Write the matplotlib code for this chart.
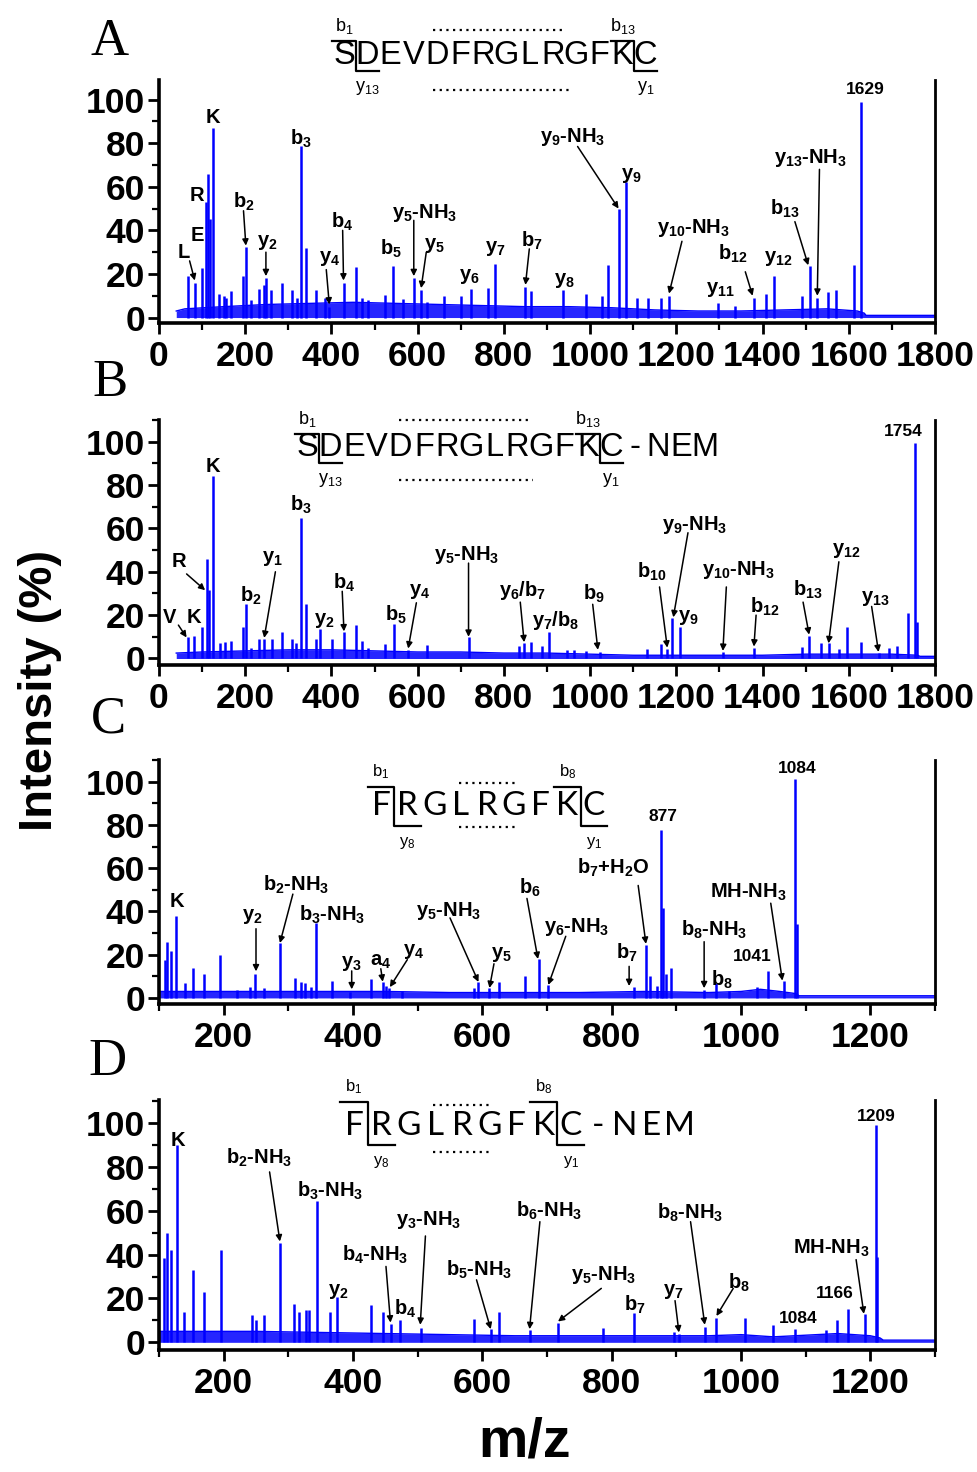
import matplotlib
matplotlib.use("Agg")
import matplotlib.pyplot as plt
import numpy as np
from matplotlib import font_manager
from matplotlib.lines import Line2D
from matplotlib.ticker import MultipleLocator

plt.rcParams["font.family"] = ["Liberation Sans", "DejaVu Sans"]
plt.rcParams["mathtext.fontset"] = "custom"
plt.rcParams["mathtext.rm"] = "Liberation Sans"
plt.rcParams["mathtext.bf"] = "Liberation Sans:bold"
plt.rcParams["mathtext.default"] = "bf"

names = {f.name for f in font_manager.fontManager.ttflist}
SEQ_FONT = "Liberation Sans Narrow" if "Liberation Sans Narrow" in names else "Liberation Sans"
SEQ_SIZE = 27 if SEQ_FONT == "Liberation Sans Narrow" else 23.5
SEQ_FONT2 = "Lato" if "Lato" in names else "Open Sans"

W, H = 978, 1472
BLUE = "#0000ff"

# ---- panel A: SDEVDFRGLRGFKC ----
a_mz = [67, 83, 99, 108.5, 113, 118, 126, 140, 151, 156, 168, 196, 201.5, 214, 232.5, 243, 248, 260, 285, 308,
        319, 329, 342, 365, 385.5, 395, 428, 456, 470, 485, 525, 543, 566, 591, 608, 622, 662, 700, 723, 764,
        780, 850, 864, 936, 991, 1027, 1041, 1067, 1084, 1109, 1134, 1164, 1183, 1297, 1336, 1380, 1409, 1426, 1491, 1509,
        1526, 1551, 1570, 1612, 1629]
a_int = [19, 16, 22.6, 53, 66, 45, 87, 11, 10, 9, 12, 19, 32.6, 8, 13, 15, 18, 12.6, 16, 12.6,
         9, 78.5, 32, 12.8, 9, 5, 16, 23, 9, 8, 10.5, 23.5, 8.5, 18, 12.5, 7, 10, 10, 13, 13.5,
         24.6, 14, 12, 12.6, 11, 10, 24, 49.7, 62, 9, 9, 9, 10, 6.5, 5.4, 9, 11, 19, 10, 23.5,
         9, 11.5, 12.8, 24, 99]
a_base_mz = [40, 60, 150, 250, 350, 450, 550, 650, 750, 850, 950, 1050, 1150, 1250, 1350, 1450, 1550, 1620, 1636, 1640, 1800]
a_base_int = [3, 4, 5, 6, 6.5, 7, 6.5, 6, 5.5, 5, 5, 4.5, 3.5, 3, 3, 3.5, 4, 3, 2, 1, 1]
a_labels = [
    ("L", 58, 30, (71, 26), (83, 17)),
    ("E", 89, 37.7, None, None),
    ("R", 89, 56, None, None),
    ("K", 124, 92, None, None),
    ("b$_2$", 198, 53, (196, 49), (201.5, 33)),
    ("y$_2$", 252, 34.6, (248, 30), (248, 19)),
    ("b$_3$", 329, 82, None, None),
    ("y$_4$", 395, 27, (388, 22), (395, 6)),
    ("b$_4$", 426, 44, (426, 40), (428, 17)),
    ("b$_5$", 539, 31.5, None, None),
    ("y$_5$-NH$_3$", 616, 48, (591, 44.6), (591, 19)),
    ("y$_5$", 640, 33, (620, 30), (608, 13.5)),
    ("y$_6$", 719, 19, None, None),
    ("y$_7$", 781, 31.5, None, None),
    ("b$_7$", 866, 35, (859, 31.5), (850, 15)),
    ("y$_8$", 940, 17, None, None),
    ("y$_9$-NH$_3$", 960, 83, (971, 78.5), (1066, 50)),
    ("y$_9$", 1095, 65, None, None),
    ("y$_{10}$-NH$_3$", 1239, 41, (1213, 35), (1183, 11)),
    ("y$_{11}$", 1303, 13, None, None),
    ("b$_{12}$", 1332, 29, (1360, 21), (1377, 10)),
    ("y$_{12}$", 1436, 27, None, None),
    ("b$_{13}$", 1452, 50, (1475, 44), (1506, 24)),
    ("y$_{13}$-NH$_3$", 1510, 73, (1532, 68), (1527, 10)),
    ("1629", 1638, 104.6, None, None),
]

# ---- panel B: SDEVDFRGLRGFKC-NEM ----
b_mz = [67, 81, 99, 112, 116, 126, 141, 152, 168, 195, 201, 214, 232.5, 244, 261, 285, 308.5, 318, 330, 342,
        365, 373, 401, 429, 457, 470, 485, 525, 544, 578, 622, 718, 834, 847, 864, 889, 905, 946, 963, 991,
        1024, 1132, 1165, 1179, 1191, 1208, 1308, 1380, 1491, 1508, 1535, 1553, 1578, 1595, 1629, 1669, 1694, 1712, 1737, 1754,
        1758]
b_int = [9.7, 10.3, 14.3, 46, 31.5, 84, 7, 7.7, 8, 14.6, 25, 5, 9, 9.2, 9, 12.3, 9.2, 7, 64.6, 25,
         8.8, 13.5, 9.2, 12, 15.4, 8, 5, 6.5, 16, 4, 6, 9.7, 5.7, 7, 7.7, 5.7, 12, 4, 4, 3.5,
         3, 4.6, 6.5, 4.6, 18.5, 14.6, 3, 5, 5.4, 10.3, 7, 7, 4.3, 14.3, 7.7, 2.6, 5, 5.7, 20.8, 99.5,
         17]
b_base_mz = [40, 100, 200, 300, 400, 500, 600, 700, 800, 900, 1000, 1100, 1200, 1300, 1400, 1500, 1600, 1700, 1760, 1765, 1800]
b_base_int = [2.5, 3, 3.5, 4, 4, 3.5, 3, 3, 2.5, 2.5, 2, 1.5, 1.5, 1.5, 1.5, 2, 2, 2, 1.5, 1, 1]
b_labels = [
    ("V", 25, 19, (45, 15.4), (64, 9.7)),
    ("K", 81, 19, None, None),
    ("R", 46.5, 44.6, (64, 39), (107, 31.5)),
    ("K", 124, 88.5, None, None),
    ("b$_2$", 213, 29, None, None),
    ("y$_1$", 264, 46, (270, 40), (244, 9.5)),
    ("b$_3$", 329, 71, None, None),
    ("y$_2$", 384, 17.7, None, None),
    ("b$_4$", 430, 35, (425, 31), (429, 12.5)),
    ("b$_5$", 550, 20, None, None),
    ("y$_4$", 605, 31, (597, 25.7), (578, 4.6)),
    ("y$_5$-NH$_3$", 714, 47.7, (718, 44), (718, 10)),
    ("y$_6$/b$_7$", 843, 31.5, (838, 26), (847, 7.5)),
    ("y$_7$/b$_8$", 921, 17.7, None, None),
    ("b$_9$", 1010, 30, (1006, 25), (1018, 4)),
    ("b$_{10}$", 1143, 40, (1161, 33), (1179, 5)),
    ("y$_9$-NH$_3$", 1243, 61.5, (1227, 58), (1193, 19)),
    ("y$_9$", 1227, 19, None, None),
    ("y$_{10}$-NH$_3$", 1343, 41, (1316, 33), (1308, 3.5)),
    ("b$_{12}$", 1405, 24, (1385, 20), (1380, 5.5)),
    ("b$_{13}$", 1506, 31.5, (1494, 26), (1508, 11)),
    ("y$_{12}$", 1595, 50, (1577, 44.6), (1553, 7)),
    ("y$_{13}$", 1661, 27.7, (1653, 24), (1669, 3)),
    ("1754", 1727, 104.6, None, None),
]

# ---- panel C: FRGLRGFKC ----
c_mz = [109, 112, 118, 127, 140, 152, 170, 195, 220, 241, 249, 263, 287, 310, 319, 326.5, 335, 343, 367, 395.5,
        428, 446, 451, 456, 476, 587, 594, 610, 626, 666, 688, 702, 834, 853, 860, 870, 877, 880, 884, 892,
        943.5, 962, 981, 1025, 1041, 1067, 1084, 1087]
c_int = [17.7, 25.7, 21.8, 37.7, 7, 13.8, 11.2, 19.7, 3.5, 5, 11.2, 4.6, 25.4, 9, 7.2, 7, 5, 34.6, 7.7, 2.6,
         8.8, 7.2, 5.4, 4.6, 3, 4.6, 7.4, 4.6, 7.2, 10, 18, 6, 5, 24.6, 10, 5.7, 77.7, 41.5, 11, 13.8,
         3.8, 7, 3, 5, 12.3, 7.7, 101, 34]
c_base_mz = [100, 150, 250, 350, 450, 550, 650, 750, 850, 950, 1000, 1030, 1060, 1085, 1090, 1300]
c_base_int = [3, 3, 3, 3, 3, 2.5, 2.5, 2.5, 3, 2.5, 3, 4, 3, 2, 1, 1]
c_labels = [
    ("K", 127, 44.6, None, None),
    ("y$_2$", 245, 37.7, (250, 32), (250, 12.3)),
    ("b$_2$-NH$_3$", 312.5, 52.3, (307, 48), (287, 25.4)),
    ("b$_3$-NH$_3$", 367, 38.5, None, None),
    ("y$_3$", 398, 16, (398, 12.5), (398, 4)),
    ("a$_4$", 442, 17, (443, 13.5), (446, 7.5)),
    ("y$_4$", 494, 21.5, (484, 17.7), (457, 5)),
    ("y$_5$-NH$_3$", 548, 40, (550, 37), (594, 7.4)),
    ("y$_5$", 629, 20, (618, 15.8), (611, 4.6)),
    ("b$_6$", 673, 50.8, (669, 46), (686, 18)),
    ("y$_6$-NH$_3$", 746, 33, (729, 28.5), (702, 6)),
    ("b$_7$+H$_2$O", 803, 60, (841, 52), (853, 25)),
    ("b$_7$", 824, 20.8, (827, 14.6), (827, 5.5)),
    ("877", 880, 83.8, None, None),
    ("MH-NH$_3$", 1012, 49, (1046, 43.8), (1064, 8)),
    ("b$_8$-NH$_3$", 958, 31.5, (943, 26), (943, 4.5)),
    ("b$_8$", 971, 8.5, None, None),
    ("1041", 1018, 19, None, None),
    ("1084", 1087, 106, None, None),
]

# ---- panel D: FRGLRGFKC-NEM ----
d_mz = [108, 113, 119, 127.5, 139, 153, 170, 196, 244, 250, 263, 287, 309, 316, 327, 332, 344, 364, 375, 428,
        447, 458, 472, 505, 587, 613, 626, 673, 717, 787, 834, 896, 904, 944, 962, 1006, 1049, 1083, 1132, 1149,
        1166, 1191, 1209, 1211]
d_int = [38.5, 49.7, 42, 90, 13.8, 33, 23, 42.3, 12.3, 10, 12.3, 45.4, 17.7, 13.8, 14.6, 14.6, 64.3, 13.8, 20.8, 17,
         13.8, 8.5, 10, 6.5, 10.5, 6, 13.8, 5.4, 8.8, 6.5, 13.4, 4.6, 3.8, 6.9, 11, 11.2, 8, 6, 5.8, 10,
         15.4, 13, 99, 39]
d_base_mz = [100, 150, 250, 350, 450, 550, 650, 750, 850, 950, 1000, 1050, 1150, 1200, 1215, 1220, 1300]
d_base_int = [5, 5, 5, 4.5, 4, 3.5, 3, 3, 3, 3, 3.5, 2.5, 4, 3, 2, 1, 1]
d_labels = [
    ("K", 128.5, 92, None, None),
    ("b$_2$-NH$_3$", 255.5, 84, (271, 77.7), (287, 46)),
    ("b$_3$-NH$_3$", 364, 69, None, None),
    ("y$_2$", 377, 23, None, None),
    ("b$_4$-NH$_3$", 434, 40, (451, 34.6), (458, 9)),
    ("b$_4$", 481, 15.4, None, None),
    ("y$_3$-NH$_3$", 517, 56, (512, 48.5), (504, 8)),
    ("b$_5$-NH$_3$", 595, 33, (591, 28.5), (613, 6)),
    ("b$_6$-NH$_3$", 703, 60, (689, 55), (673, 6)),
    ("y$_5$-NH$_3$", 787, 30.8, (784, 24.6), (717, 9.5)),
    ("b$_7$", 836, 17, None, None),
    ("y$_7$", 896, 23, (898, 19), (904, 4.5)),
    ("b$_8$-NH$_3$", 922, 59, (922, 55), (944, 8)),
    ("b$_8$", 997, 27, (988, 24.6), (962, 12)),
    ("1084", 1088, 10.8, None, None),
    ("1166", 1145, 22.3, None, None),
    ("MH-NH$_3$", 1139, 43, (1178, 37.7), (1190, 13)),
    ("1209", 1209, 103, None, None),
]


def fx(x):
    return x / W


def fy(y):
    return 1 - y / H


def make_axes(fig, top, bottom):
    left, right = 159, 935
    return fig.add_axes([fx(left), fy(bottom), (right - left) / W, (bottom - top) / H])


def draw_spectrum(ax, mz, inten, base_mz, base_int, labels, xlim, ylim, xticks):
    ax.fill_between(base_mz, 0, base_int, color=BLUE, lw=0, alpha=0.85, zorder=2)
    ax.plot(base_mz, base_int, color=BLUE, lw=1, zorder=2)
    ax.vlines(mz, 0, inten, color=BLUE, lw=1.8, zorder=3)
    for text, tx, ty, tail, head in labels:
        size = 12.5 if text.isdigit() else 14.5
        ax.text(tx, ty, text, ha="center", va="center", fontsize=size,
                fontweight="bold", zorder=5)
        if tail is not None:
            ax.annotate("", xy=head, xytext=tail,
                        arrowprops=dict(arrowstyle="-|>", color="black", lw=1.1,
                                        mutation_scale=9, shrinkA=0, shrinkB=0),
                        zorder=4)
    ax.set_xlim(*xlim)
    ax.set_ylim(*ylim)
    ax.set_xticks(xticks)
    ax.set_xticklabels([str(t) for t in xticks], fontsize=25.5, fontweight="bold")
    yt = list(range(0, 101, 20))
    ax.set_yticks(yt)
    ax.set_yticklabels([str(t) for t in yt], fontsize=25.5, fontweight="bold")
    ax.xaxis.set_minor_locator(MultipleLocator(100))
    ax.yaxis.set_minor_locator(MultipleLocator(10))
    ax.tick_params(which="major", direction="out", length=8, width=2, pad=2)
    ax.tick_params(which="minor", direction="out", length=5, width=1.6)
    ax.tick_params(axis="x", which="major", pad=4)
    ax.spines["top"].set_visible(False)
    for s in ("left", "bottom"):
        ax.spines[s].set_linewidth(2.6)
    ax.spines["right"].set_linewidth(2)
    ax.patch.set_alpha(0)


def fig_line(fig, xs, ys, **kw):
    fig.add_artist(Line2D([fx(x) for x in xs], [fy(y) for y in ys],
                          transform=fig.transFigure, color="black", **kw))


def draw_sequence(fig, seq, x0, pitch, yc, size, family, top, bottom,
                  brackets, dots, sub_size=13):
    for i, ch in enumerate(seq):
        fig.text(fx(x0 + i * pitch), fy(yc), ch, ha="center", va="center",
                 fontsize=size, family=family, fontweight="normal")
    for i, top_lab, bot_lab in brackets:
        xa = x0 + i * pitch
        xb = xa + pitch / 2
        fig_line(fig, [xa - pitch / 2, xb, xb, xb + pitch], [top, top, bottom, bottom], lw=1.6)
        fig.text(fx(xa), fy(top - 15), top_lab, ha="center", va="center",
                 fontsize=sub_size, fontweight="normal")
        fig.text(fx(xb + pitch / 2), fy(bottom + 17), bot_lab, ha="center", va="center",
                 fontsize=sub_size, fontweight="normal")
    for xa, xb, yd in dots:
        fig_line(fig, [xa, xb], [yd, yd], lw=1.6, linestyle=(0, (1, 2)))


fig = plt.figure(figsize=(W / 100, H / 100), dpi=100)

axA = make_axes(fig, 80, 323)
draw_spectrum(axA, a_mz, a_int, a_base_mz, a_base_int, a_labels, (0, 1800), (-2.5, 109), list(range(0, 1801, 200)))
axB = make_axes(fig, 420, 665)
draw_spectrum(axB, b_mz, b_int, b_base_mz, b_base_int, b_labels, (0, 1800), (-3, 110), list(range(0, 1801, 200)))
axC = make_axes(fig, 760, 1004)
draw_spectrum(axC, c_mz, c_int, c_base_mz, c_base_int, c_labels, (100, 1300), (-2.8, 110), list(range(200, 1201, 200)))
axD = make_axes(fig, 1100, 1350)
draw_spectrum(axD, d_mz, d_int, d_base_mz, d_base_int, d_labels, (100, 1300), (-3.5, 110.5), list(range(200, 1201, 200)))

B1 = r"b$_{\mathrm{1}}$"
draw_sequence(fig, "SDEVDFRGLRGFKC", 344, 23.2, 56, SEQ_SIZE, SEQ_FONT, 41, 71,
              [(0, B1, r"y$_{\mathrm{13}}$"), (12, r"b$_{\mathrm{13}}$", r"y$_{\mathrm{1}}$")],
              [(433, 565, 30), (433, 571, 90)])
draw_sequence(fig, "SDEVDFRGLRGFKC-NEM", 307, 23.4, 448, SEQ_SIZE, SEQ_FONT, 434, 463,
              [(0, B1, r"y$_{\mathrm{13}}$"), (12, r"b$_{\mathrm{13}}$", r"y$_{\mathrm{1}}$")],
              [(399, 531, 420), (399, 533, 480)])
draw_sequence(fig, "FRGLRGFKC", 381, 26.6, 806, 24, SEQ_FONT2, 787, 826,
              [(0, B1, r"y$_{\mathrm{8}}$"), (7, r"b$_{\mathrm{8}}$", r"y$_{\mathrm{1}}$")],
              [(459, 519, 783), (459, 519, 827)], sub_size=12)
draw_sequence(fig, "FRGLRGFKC-NEM", 354, 27.1, 1126, 24, SEQ_FONT2, 1102, 1145,
              [(0, B1, r"y$_{\mathrm{8}}$"), (7, r"b$_{\mathrm{8}}$", r"y$_{\mathrm{1}}$")],
              [(433, 493, 1105), (433, 493, 1152)], sub_size=12)

for letter, x, y in [("A", 110, 42), ("B", 110, 383), ("C", 108, 720), ("D", 108, 1062)]:
    fig.text(fx(x), fy(y), letter, ha="center", va="center", fontsize=38, family="Liberation Serif")

fig.text(fx(40), fy(690), "Intensity (%)", rotation=90, ha="center", va="center",
         fontsize=34, fontweight="bold")
fig.text(fx(525), fy(1443), "m/z", ha="center", va="center", fontsize=40, fontweight="bold")

fig.savefig("out.png", dpi=100, facecolor="white")
